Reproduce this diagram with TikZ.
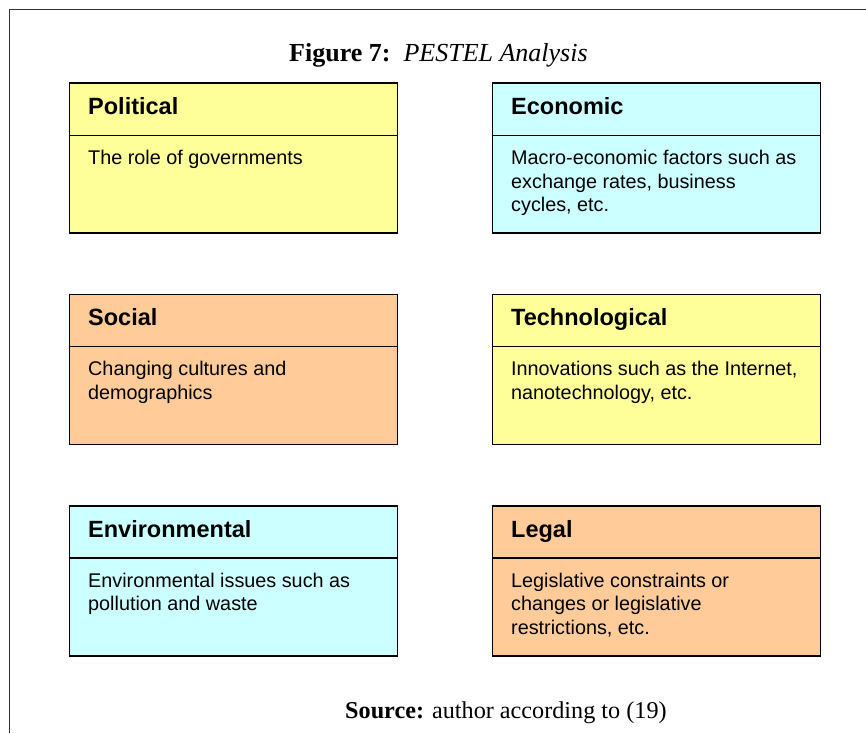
\documentclass[tikz,border=0pt]{standalone}
\usepackage{fontspec}
\setmainfont{Liberation Serif}
\newfontfamily\arialfont{Liberation Sans}
\usetikzlibrary{calc}
\definecolor{pyellow}{HTML}{FFFF99}
\definecolor{pcyan}{HTML}{CCFFFF}
\definecolor{porange}{HTML}{FFCC99}
\definecolor{framegray}{HTML}{333333}
\tikzset{
  pbox/.style={draw=black, line width=1.6pt, rectangle, anchor=north west,
    minimum width=328pt, minimum height=150pt, inner sep=0pt},
  phead/.style={anchor=base west, inner sep=0pt,
    font=\arialfont\bfseries\fontsize{23.5}{27}\selectfont},
  pbody/.style={anchor=north west, inner sep=0pt, align=left,
    font=\arialfont\fontsize{19.8}{23.4}\selectfont},
  pdiv/.style={draw=black, line width=1.4pt},
  ptitle/.style={anchor=base west, inner sep=0pt, font=\fontsize{26}{30}\selectfont},
  psource/.style={anchor=base west, inner sep=0pt, font=\fontsize{24.2}{28}\selectfont}
}
% #1 name, #2 x, #3 y, #4 colour, #5 title, #6 body
\newcommand{\pestelbox}[6]{%
  \node[pbox, fill=#4] (#1) at (#2,#3) {};
  \coordinate (#1dl) at ($(#1.north west)+(0,53)$);
  \coordinate (#1dr) at ($(#1.north east)+(0,53)$);
  \draw[pdiv] (#1dl) -- (#1dr);
  \node[phead] (#1h) at ($(#1.north west)+(19.5,32.3)$) {#5};
  \node[pbody] (#1b) at ($(#1.north west)+(19.5,82.2-16.4)$) {\strut#6};
}
\begin{document}
\begin{tikzpicture}[x=1pt,y=-1pt]
\useasboundingbox (0,0) rectangle (866,733);
\coordinate (ftr) at (866,9.5);
\coordinate (ftl) at (9.5,9.5);
\coordinate (fbl) at (9.5,733);
\draw[framegray, line width=1.8pt] (ftr) -- (ftl) -- (fbl);
\node[ptitle] (title) at (289,62) {\textbf{Figure 7:}\hspace{0.5em}\textit{PESTEL Analysis}};
\pestelbox{pol}{68.5}{82.3}{pyellow}{Political}{The role of governments}
\pestelbox{eco}{491.5}{82.3}{pcyan}{Economic}{Macro-economic factors such as\\exchange rates, business\\cycles, etc.}
\pestelbox{soc}{68.5}{293.5}{porange}{Social}{Changing cultures and\\demographics}
\pestelbox{tec}{491.5}{293.5}{pyellow}{Technological}{Innovations such as the Internet,\\nanotechnology, etc.}
\pestelbox{env}{68.5}{505}{pcyan}{Environmental}{Environmental issues such as\\pollution and waste}
\pestelbox{leg}{491.5}{505}{porange}{Legal}{Legislative constraints or\\changes or legislative\\restrictions, etc.}
\node[psource] (source) at (345,718) {\textbf{Source:} author according to (19)};
\end{tikzpicture}
\end{document}
